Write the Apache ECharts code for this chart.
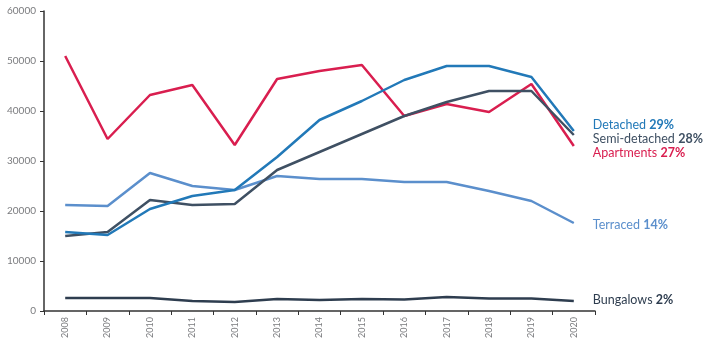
<!DOCTYPE html>
<html>
<head>
<meta charset="utf-8">
<script src="https://cdn.jsdelivr.net/npm/echarts@6/dist/echarts.min.js"></script>
<style>
  html, body { margin: 0; padding: 0; background: #fff; }
  #chart { width: 713px; height: 349px; }
</style>
</head>
<body>
<div id="chart"></div>
<script>
const years = ["2008", "2009", "2010", "2011", "2012", "2013", "2014", "2015", "2016", "2017", "2018", "2019", "2020"];
const apartments = [51000, 34400, 43200, 45200, 33200, 46400, 48000, 49200, 39000, 41400, 39800, 45400, 33000];
const detached = [15800, 15200, 20400, 23000, 24200, 30800, 38200, 42000, 46200, 49000, 49000, 46800, 36000];
const semiDetached = [15000, 15800, 22200, 21200, 21400, 28200, 31800, 35400, 39000, 41800, 44000, 44000, 35200];
const terraced = [21200, 21000, 27600, 25000, 24200, 27000, 26400, 26400, 25800, 25800, 24000, 22000, 17600];
const bungalows = [2600, 2600, 2600, 2000, 1800, 2400, 2200, 2400, 2300, 2800, 2500, 2500, 2000];
const shares = { detached: "29%", semi: "28%", apartments: "27%", terraced: "14%", bungalows: "2%" };

const font = "Lato";

function line(name, data, color, pct, dy) {
  return {
    name: name,
    type: "line",
    data: data,
    symbol: "none",
    lineStyle: { color: color, width: 2.5 },
    itemStyle: { color: color },
    endLabel: {
      show: true,
      offset: [11, dy],
      formatter: () => "{n|" + name + "} {p|" + pct + "}",
      rich: {
        n: { color: color, fontSize: 12.5, fontFamily: font },
        p: { color: color, fontSize: 12.5, fontFamily: font, fontWeight: "bold" },
      },
    },
  };
}

const chart = echarts.init(document.getElementById("chart"));
chart.setOption({
  animation: false,
  grid: { left: 44, right: 118, top: 11, bottom: 38 },
  xAxis: {
    type: "category",
    data: years,
    boundaryGap: true,
    axisLine: { lineStyle: { color: "#333", width: 1.5 } },
    axisTick: { show: true, length: 4, lineStyle: { color: "#333" } },
    axisLabel: {
      rotate: 90,
      color: "#7a7b7e",
      fontSize: 9,
      fontFamily: font,
      margin: 6,
    },
  },
  yAxis: {
    type: "value",
    min: 0,
    max: 60000,
    interval: 10000,
    axisLine: { show: true, lineStyle: { color: "#333", width: 1.5 } },
    axisTick: { show: true, length: 4, lineStyle: { color: "#333" } },
    axisLabel: {
      color: "#7a7b7e",
      fontSize: 10,
      fontFamily: font,
      margin: 8,
      formatter: (v) => String(v),
    },
    splitLine: { show: false },
  },
  series: [
    line("Bungalows", bungalows, "#2e3d4f", shares.bungalows, -1),
    line("Terraced", terraced, "#5b8fcc", shares.terraced, 2),
    line("Apartments", apartments, "#d91e4f", shares.apartments, 7),
    line("Semi-detached", semiDetached, "#3f5063", shares.semi, 4),
    line("Detached", detached, "#2279b8", shares.detached, -6),
  ],
});
</script>
</body>
</html>
